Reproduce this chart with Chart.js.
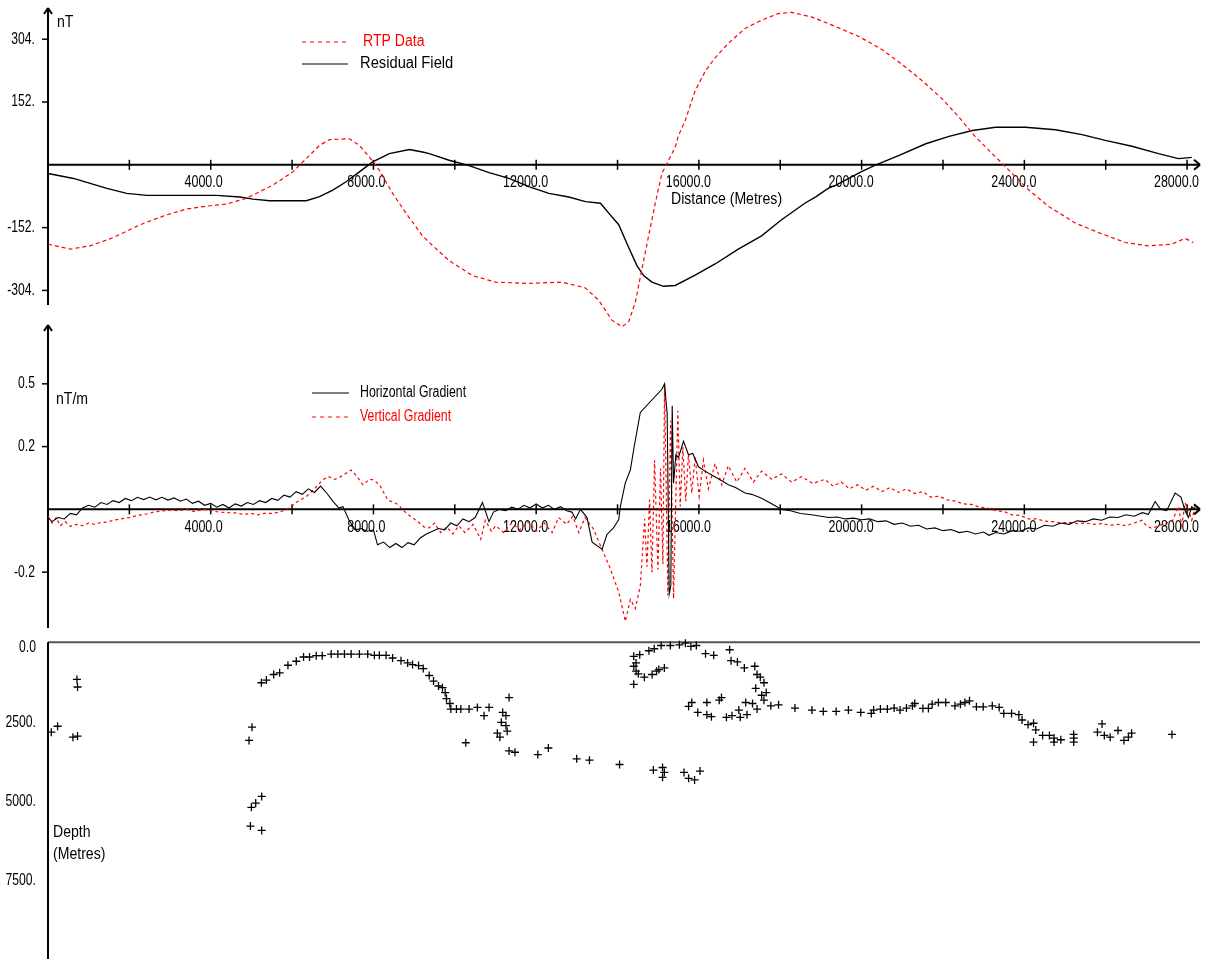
<!DOCTYPE html>
<html>
<head>
<meta charset="utf-8">
<title>Magnetic profile</title>
<script src="https://cdn.jsdelivr.net/npm/chart.js@4.4.1/dist/chart.umd.min.js"></script>
<style>
  html, body { margin: 0; padding: 0; background: #fff; }
  #wrap { width: 1218px; height: 959px; }
</style>
</head>
<body>
<div id="wrap"><canvas id="profileChart" width="1218" height="959"></canvas></div>
<script>
// ---- profile data, distance in metres ----
// RTP data (nT)
const rtpDist = [0, 547, 1037, 1609, 2262, 2917, 3407, 3978, 4388, 4878, 5530, 6020, 6348, 6675, 6920, 7410, 7655, 7900, 8145, 8471, 8800, 9207, 9371, 9861, 10433, 11006, 11822, 12639, 13212, 13538, 13864, 14109, 14274, 14438, 14600, 14764, 14928, 15090, 15254, 15418, 15499, 15663, 15908, 16153, 16398, 16724, 17134, 17541, 17950, 18276, 18767, 19176, 19372, 19944, 20516, 21006, 21497, 21987, 22395, 22804, 23213, 23620, 24110, 24600, 25255, 25826, 26481, 27052, 27625, 27951, 28155];
const rtpVals = [-192, -204, -196, -176, -145, -121, -107, -99, -95, -81, -49, -17, 15, 47, 61, 63, 47, 19, -13, -69, -117, -172, -188, -232, -268, -284, -287, -284, -298, -328, -376, -392, -380, -332, -252, -172, -93, -21, 11, 43, 71, 107, 179, 226, 259, 294, 330, 350, 366, 369, 358, 342, 334, 310, 278, 242, 203, 159, 115, 67, 27, -13, -61, -101, -141, -164, -188, -196, -192, -178, -188];

// Residual field (nT)
const resDist = [0, 628, 1446, 1936, 2427, 4143, 4714, 5040, 5449, 6349, 6675, 7001, 7329, 7655, 7981, 8390, 8881, 9207, 9371, 9861, 10351, 10842, 11332, 11822, 12312, 12802, 13212, 13580, 13783, 14029, 14274, 14477, 14641, 14845, 15131, 15418, 15908, 16398, 16969, 17541, 18032, 18604, 18882, 19176, 19372, 19985, 20353, 20923, 21578, 22149, 22722, 23294, 24029, 24765, 25418, 25990, 26645, 27297, 27787, 28115];
const resVals = [-21, -33, -57, -69, -74, -74, -78, -83, -87, -87, -77, -61, -41, -17, 7, 27, 37, 31, 27, 11, -2, -19, -33, -53, -69, -78, -89, -93, -117, -145, -200, -244, -268, -284, -294, -292, -267, -240, -204, -172, -133, -93, -77, -57, -49, -17, 0, 23, 51, 69, 83, 91, 91, 85, 73, 59, 45, 27, 15, 18];

// Horizontal gradient (nT/m)
const hgDist = [0, 100, 250, 400, 550, 700, 850, 1000, 1150, 1300, 1450, 1600, 1750, 1900, 2050, 2200, 2350, 2500, 2650, 2800, 2950, 3100, 3250, 3400, 3550, 3700, 3850, 4000, 4150, 4300, 4450, 4600, 4750, 4900, 5050, 5200, 5350, 5500, 5650, 5800, 5950, 6100, 6250, 6400, 6550, 6700, 6850, 7000, 7150, 7250, 7400, 7550, 7700, 7850, 8000, 8100, 8250, 8400, 8550, 8700, 8850, 9000, 9150, 9300, 9450, 9600, 9750, 9900, 10050, 10200, 10350, 10500, 10680, 10840, 10950, 11100, 11250, 11400, 11550, 11700, 11850, 12000, 12150, 12300, 12450, 12600, 12750, 12880, 12970, 13090, 13250, 13375, 13620, 13740, 13900, 14030, 14070, 14190, 14315, 14400, 14560, 15090, 15156, 15220, 15271, 15310, 15344, 15377, 15434, 15500, 15622, 15744, 15850, 15990, 16150, 16315, 16500, 16724, 16900, 17134, 17300, 17541, 17800, 18032, 18250, 18500, 18767, 19000, 19200, 19400, 19600, 19800, 20000, 20200, 20400, 20600, 20800, 21000, 21200, 21400, 21600, 21800, 22000, 22200, 22400, 22600, 22800, 23000, 23130, 23300, 23500, 23700, 23900, 24100, 24300, 24500, 24700, 24900, 25100, 25300, 25500, 25700, 25900, 26100, 26300, 26500, 26700, 26900, 27050, 27216, 27350, 27500, 27706, 27850, 27952, 28032, 28115, 28200];
const hgVals = [-0.03, -0.045, -0.03, -0.035, -0.015, -0.02, 0.005, 0.015, 0.008, 0.025, 0.018, 0.032, 0.025, 0.04, 0.032, 0.044, 0.036, 0.045, 0.035, 0.044, 0.034, 0.042, 0.03, 0.038, 0.022, 0.03, 0.015, 0.022, 0.008, 0.018, 0.005, 0.02, 0.012, 0.025, 0.018, 0.032, 0.025, 0.04, 0.033, 0.052, 0.045, 0.065, 0.055, 0.075, 0.062, 0.085, 0.06, 0.03, 0.005, 0.01, -0.04, -0.075, -0.07, -0.08, -0.075, -0.13, -0.12, -0.14, -0.125, -0.14, -0.122, -0.13, -0.105, -0.09, -0.08, -0.07, -0.075, -0.05, -0.06, -0.035, -0.045, -0.03, 0.025, -0.045, -0.01, 0.0, -0.005, 0.008, 0.0, 0.015, 0.005, 0.02, 0.005, 0.015, 0.0, 0.01, -0.005, -0.01, -0.035, 0.0, -0.03, -0.12, -0.146, -0.092, -0.068, -0.037, 0.011, 0.096, 0.144, 0.222, 0.355, 0.44, 0.46, 0.35, -0.309, -0.28, 0.38, 0.096, 0.2, 0.19, 0.25, 0.2, 0.205, 0.156, 0.14, 0.126, 0.11, 0.09, 0.08, 0.06, 0.055, 0.041, 0.02, 0.0, -0.005, -0.015, -0.02, -0.025, -0.03, -0.028, -0.035, -0.032, -0.038, -0.035, -0.045, -0.042, -0.055, -0.05, -0.062, -0.058, -0.072, -0.068, -0.078, -0.074, -0.085, -0.08, -0.09, -0.083, -0.095, -0.085, -0.09, -0.078, -0.08, -0.068, -0.072, -0.058, -0.062, -0.05, -0.055, -0.042, -0.045, -0.035, -0.04, -0.028, -0.03, -0.02, -0.025, -0.012, -0.018, 0.029, 0.0, -0.005, 0.06, 0.045, -0.005, -0.03, 0.01, 0.0];

// Vertical gradient (nT/m)
const vgDist = [0, 100, 200, 300, 420, 550, 700, 850, 1000, 1150, 1300, 1450, 1600, 1800, 2000, 2200, 2400, 2600, 2800, 3000, 3200, 3400, 3600, 3800, 4000, 4200, 4400, 4600, 4800, 5000, 5150, 5300, 5500, 5700, 5850, 5950, 6100, 6350, 6550, 6750, 6900, 7050, 7200, 7450, 7600, 7740, 7900, 8000, 8150, 8350, 8500, 8600, 8800, 9050, 9250, 9370, 9500, 9650, 9800, 9950, 10100, 10250, 10450, 10638, 10750, 10900, 11006, 11200, 11400, 11600, 11800, 12000, 12200, 12393, 12550, 12750, 12900, 13048, 13200, 13400, 13620, 13824, 14029, 14193, 14315, 14437, 14560, 14666, 14723, 14788, 14845, 14911, 14992, 15058, 15115, 15156, 15237, 15303, 15377, 15482, 15541, 15605, 15678, 15744, 15825, 15908, 16006, 16112, 16234, 16398, 16561, 16724, 16930, 17134, 17340, 17541, 17790, 18032, 18280, 18522, 18800, 19095, 19300, 19500, 19700, 19900, 20100, 20300, 20500, 20700, 20900, 21100, 21300, 21500, 21700, 21900, 22100, 22300, 22500, 22700, 22900, 23100, 23300, 23500, 23700, 23900, 24100, 24300, 24500, 24700, 24900, 25100, 25300, 25500, 25700, 25900, 26100, 26300, 26500, 26700, 26890, 27000, 27135, 27300, 27500, 27650, 27787, 27870, 27952, 28030, 28115, 28196];
const vgVals = [-0.025, -0.05, -0.03, -0.06, -0.045, -0.062, -0.055, -0.06, -0.05, -0.055, -0.048, -0.047, -0.04, -0.035, -0.03, -0.022, -0.018, -0.01, -0.006, -0.003, -0.005, 0.0, -0.008, 0.0, -0.005, -0.01, -0.012, -0.013, -0.018, -0.015, -0.02, -0.015, -0.015, -0.01, 0.0, 0.006, 0.025, 0.047, 0.075, 0.108, 0.12, 0.11, 0.12, 0.144, 0.12, 0.09, 0.11, 0.108, 0.09, 0.035, 0.025, 0.018, -0.013, -0.04, -0.065, -0.068, -0.05, -0.085, -0.065, -0.09, -0.06, -0.085, -0.055, -0.11, -0.04, -0.08, -0.06, -0.085, -0.05, -0.075, -0.045, -0.08, -0.05, -0.085, -0.03, -0.055, -0.025, -0.085, -0.03, -0.07, -0.146, -0.218, -0.303, -0.41, -0.33, -0.363, -0.28, -0.035, -0.21, 0.035, -0.23, 0.18, -0.22, 0.15, -0.2, 0.458, -0.315, 0.325, -0.327, 0.361, 0.011, 0.228, 0.03, 0.204, 0.06, 0.192, 0.047, 0.18, 0.075, 0.168, 0.09, 0.16, 0.1, 0.15, 0.1, 0.14, 0.11, 0.13, 0.1, 0.12, 0.095, 0.11, 0.085, 0.1, 0.075, 0.09, 0.07, 0.085, 0.065, 0.08, 0.062, 0.075, 0.058, 0.065, 0.045, 0.048, 0.035, 0.03, 0.02, 0.018, 0.008, 0.005, -0.005, -0.008, -0.02, -0.022, -0.035, -0.035, -0.043, -0.045, -0.05, -0.048, -0.052, -0.05, -0.055, -0.052, -0.058, -0.055, -0.06, -0.05, -0.04, -0.06, -0.07, -0.06, -0.05, -0.04, 0.011, -0.06, 0.024, 0.0, -0.04, 0.011];

// Source depth solutions (metres)
const depthDist = [81, 236, 711, 726, 613, 726, 4942, 5015, 5000, 5106, 5253, 4976, 5253, 5245, 5368, 5547, 5694, 5898, 6103, 6282, 6429, 6594, 6741, 6961, 7124, 7287, 7452, 7655, 7859, 8023, 8145, 8310, 8471, 8677, 8839, 8962, 9109, 9224, 9371, 9477, 9599, 9697, 9763, 9795, 9878, 9903, 10040, 10148, 10351, 10555, 10719, 10842, 10270, 11045, 11334, 11177, 11256, 11143, 11256, 11288, 11109, 11334, 11479, 12040, 12300, 12996, 13310, 14050, 14881, 15107, 15151, 15107, 15634, 15747, 15894, 16028, 14399, 14546, 14455, 14399, 14455, 14399, 14512, 14659, 14850, 14960, 15151, 15016, 14771, 14903, 15072, 15298, 15521, 15668, 15803, 15937, 16163, 16364, 16756, 16791, 16947, 17117, 17374, 17430, 17509, 17599, 17396, 17543, 17656, 17599, 15747, 15825, 15972, 16196, 16308, 16196, 16499, 16555, 16677, 16813, 16982, 17016, 17183, 17151, 17318, 17430, 17769, 17958, 18362, 18779, 19058, 19374, 19676, 19979, 20238, 20295, 20462, 20632, 20799, 20945, 21102, 21249, 21306, 21507, 21642, 21733, 21888, 22067, 22294, 22428, 22540, 22652, 22822, 22989, 23212, 23382, 23494, 23686, 23865, 23944, 24091, 24226, 24226, 24281, 24449, 24617, 24730, 24730, 24897, 25213, 25213, 25213, 25797, 25910, 25966, 26110, 26302, 26449, 26559, 26637, 27628];
const depthVals = [2812, 2625, 1146, 1385, 2969, 2937, 3072, 2656, 5187, 5053, 4844, 5781, 5916, 1250, 1166, 990, 937, 697, 572, 437, 437, 396, 396, 344, 344, 344, 344, 344, 344, 385, 385, 385, 469, 552, 625, 677, 708, 802, 1021, 1197, 1354, 1406, 1562, 1750, 1906, 2084, 2084, 2084, 2084, 2031, 2291, 2031, 3146, 2844, 1719, 2187, 2291, 2500, 2604, 2781, 2969, 3406, 3447, 3521, 3312, 3656, 3697, 3834, 4010, 3928, 4084, 4240, 4084, 4271, 4322, 4041, 416, 365, 625, 729, 885, 1302, 969, 1073, 990, 885, 781, 833, 240, 177, 73, 73, 52, 0, 104, 73, 333, 385, 208, 552, 594, 781, 729, 990, 1073, 1250, 1427, 1646, 1562, 1802, 2000, 1875, 2187, 2260, 2323, 1875, 1802, 1719, 2344, 2291, 2115, 2344, 2260, 1875, 1906, 2084, 1979, 1947, 2052, 2115, 2156, 2156, 2115, 2187, 2219, 2115, 2083, 2083, 2052, 2115, 2052, 1979, 1906, 2062, 2062, 1927, 1875, 1875, 1979, 1927, 1875, 1823, 2010, 2010, 1979, 2031, 2219, 2219, 2260, 2427, 2573, 2531, 3125, 2740, 2916, 2916, 3125, 3000, 3052, 2885, 3125, 3000, 2812, 2552, 2916, 2969, 2760, 3072, 2969, 2844, 2885];

// ---- axis ticks ----
const distTicks = [2000, 4000, 6000, 8000, 10000, 12000, 14000, 16000, 18000, 20000, 22000, 24000, 26000, 28000];
const distLabels = [4000, 8000, 12000, 16000, 20000, 24000, 28000];
const fieldTicks = [304, 152, -152, -304];
const fieldTickLabels = ['304.', '152.', '-152.', '-304.'];
const gradTicks = [0.46, 0.23, -0.23];
const gradTickLabels = ['0.5', '0.2', '-0.2'];
const depthTicks = [0, 2500, 5000, 7500];
const depthTickLabels = ['0.0', '2500.', '5000.', '7500.'];

// ---- layout (pixels) ----
const W = 1218, H = 959;
const PLOT_LEFT = 48, PLOT_RIGHT = 1216, AXIS_END = 1200;
const X_PX_PER_M = 0.040796;
const panels = {
    yField: { zero: 161.3, ppu: 0.4178, top: 8, bottom: 305 },
    yGrad: { zero: 509.7, ppu: 276, top: 325, bottom: 628 },
    yDepth: { zero: 645, ppu: 0.032, top: 644, bottom: 959 }
};
const FONT = '"Liberation Sans", Arial, sans-serif';

function pairs(xs, ys) {
    return xs.map((x, i) => ({ x: x, y: ys[i] }));
}

// min/max so that value 0 lands on zeroPx with the given pixel scale
function band(p, reverse) {
    if (reverse) return { min: -p.zero / p.ppu, max: (H - p.zero) / p.ppu };
    return { min: -(H - p.zero) / p.ppu, max: p.zero / p.ppu };
}

function text(ctx, s, x, y, align, color, sx) {
    ctx.save();
    ctx.font = '16px ' + FONT;
    ctx.fillStyle = color || '#000';
    ctx.textAlign = align || 'left';
    ctx.textBaseline = 'middle';
    ctx.translate(x, y);
    ctx.scale(sx || 0.88, 1);
    ctx.fillText(s, 0, 0);
    ctx.restore();
}

function line(ctx, x1, y1, x2, y2) {
    ctx.beginPath();
    ctx.moveTo(x1, y1);
    ctx.lineTo(x2, y2);
    ctx.stroke();
}

const axesPlugin = {
    id: 'profileAxes',
    beforeDatasetsDraw(chart) {
        const ctx = chart.ctx;
        const x = chart.scales.x;
        const x0 = x.getPixelForValue(0);

        ctx.save();
        ctx.beginPath();
        ctx.rect(0, 0, AXIS_END + 1, H);
        ctx.clip();
        ctx.strokeStyle = '#000';

        // field and gradient panels
        [['yField', fieldTicks, fieldTickLabels], ['yGrad', gradTicks, gradTickLabels]].forEach(([id, ticks, labels]) => {
            const p = panels[id];
            const y = chart.scales[id];
            const zy = y.getPixelForValue(0);
            ctx.lineWidth = 2;
            line(ctx, x0, p.bottom, x0, p.top);
            line(ctx, x0 - 4, p.top + 6, x0, p.top);
            line(ctx, x0 + 4, p.top + 6, x0, p.top);
            line(ctx, x0, zy, AXIS_END, zy);
            line(ctx, AXIS_END - 6, zy - 5, AXIS_END, zy);
            line(ctx, AXIS_END - 6, zy + 5, AXIS_END, zy);
            ctx.lineWidth = 1.5;
            distTicks.forEach(t => {
                const px = x.getPixelForValue(t);
                line(ctx, px, zy - 5, px, zy + 5);
            });
            distLabels.forEach(t => {
                text(ctx, t.toFixed(1), x.getPixelForValue(t) + 12, zy + 18, 'right', '#000', 0.78);
            });
            ticks.forEach((v, i) => {
                const py = y.getPixelForValue(v);
                line(ctx, x0 - 6, py, x0, py);
                text(ctx, labels[i], 35, py, 'right', '#000', 0.76);
            });
        });

        // depth panel
        const d = panels.yDepth;
        const yd = chart.scales.yDepth;
        const top = yd.getPixelForValue(0) - 1;
        ctx.lineWidth = 2;
        ctx.strokeStyle = '#555';
        line(ctx, x0, top, AXIS_END, top);
        ctx.strokeStyle = '#000';
        line(ctx, x0, top, x0, d.bottom);
        depthTicks.forEach((v, i) => {
            const py = Math.max(yd.getPixelForValue(v), top + 5);
            text(ctx, depthTickLabels[i], 36, py, 'right', '#000', 0.76);
        });
        ctx.restore();
    },
    afterDatasetsDraw(chart) {
        const ctx = chart.ctx;
        ctx.save();
        // axis titles
        text(ctx, 'nT', 57, 23);
        text(ctx, 'Distance (Metres)', 671, 200);
        text(ctx, 'nT/m', 56, 400);
        text(ctx, 'Depth', 53, 833);
        text(ctx, '(Metres)', 53, 855);

        // legends
        ctx.lineWidth = 1.2;
        ctx.strokeStyle = '#ff0000';
        ctx.setLineDash([4, 4]);
        line(ctx, 302, 42, 348, 42);
        line(ctx, 312, 417, 349, 417);
        ctx.setLineDash([]);
        ctx.strokeStyle = '#000';
        line(ctx, 302, 64, 348, 64);
        line(ctx, 312, 393, 349, 393);
        text(ctx, 'RTP Data', 363, 42, 'left', '#ff0000');
        text(ctx, 'Residual Field', 360, 64, 'left', '#000', 0.92);
        text(ctx, 'Horizontal Gradient', 360, 393, 'left', '#000', 0.77);
        text(ctx, 'Vertical Gradient', 360, 417, 'left', '#ff0000', 0.77);
        ctx.restore();
    }
};

const fieldRange = band(panels.yField, false);
const gradRange = band(panels.yGrad, false);
const depthRange = band(panels.yDepth, true);

new Chart(document.getElementById('profileChart').getContext('2d'), {
    type: 'scatter',
    data: {
        datasets: [
            {
                label: 'RTP Data',
                data: pairs(rtpDist, rtpVals),
                yAxisID: 'yField',
                showLine: true,
                borderColor: '#ff0000',
                borderWidth: 1.2,
                borderDash: [4, 3],
                pointRadius: 0,
            },
            {
                label: 'Residual Field',
                data: pairs(resDist, resVals),
                yAxisID: 'yField',
                showLine: true,
                borderColor: '#000',
                borderWidth: 1.4,
                pointRadius: 0,
            },
            {
                label: 'Horizontal Gradient',
                data: pairs(hgDist, hgVals),
                yAxisID: 'yGrad',
                showLine: true,
                borderColor: '#000',
                borderWidth: 1.1,
                pointRadius: 0,
            },
            {
                label: 'Vertical Gradient',
                data: pairs(vgDist, vgVals),
                yAxisID: 'yGrad',
                showLine: true,
                borderColor: '#ff0000',
                borderWidth: 1.2,
                borderDash: [3, 3],
                pointRadius: 0,
            },
            {
                label: 'Depth',
                data: pairs(depthDist, depthVals),
                yAxisID: 'yDepth',
                showLine: false,
                pointStyle: 'cross',
                pointRadius: 4,
                pointBorderWidth: 1.3,
                borderColor: '#000',
                backgroundColor: '#000',
            },
        ],
    },
    options: {
        responsive: false,
        animation: false,
        devicePixelRatio: 1,
        layout: { padding: { left: PLOT_LEFT, right: W - PLOT_RIGHT, top: 0, bottom: 0 } },
        plugins: { legend: { display: false }, tooltip: { enabled: false } },
        scales: {
            x: { type: 'linear', display: false, min: 0, max: (PLOT_RIGHT - PLOT_LEFT) / X_PX_PER_M },
            yField: { type: 'linear', display: false, min: fieldRange.min, max: fieldRange.max },
            yGrad: { type: 'linear', display: false, min: gradRange.min, max: gradRange.max },
            yDepth: { type: 'linear', display: false, reverse: true, min: depthRange.min, max: depthRange.max },
        },
    },
    plugins: [axesPlugin],
});
</script>
</body>
</html>
